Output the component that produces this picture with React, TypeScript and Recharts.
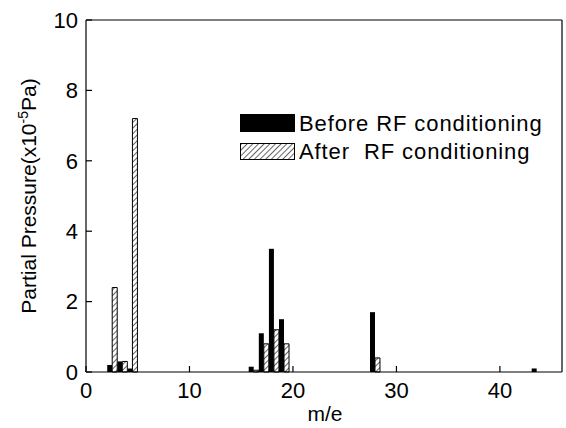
import { BarChart, Bar, XAxis, YAxis } from "recharts";

// m/e peaks and partial pressures (x10^-5 Pa)
const masses = [2, 3, 4, 16, 17, 18, 19, 28, 44];
const beforeRF = [0.2, 0.3, 0.1, 0.15, 1.1, 3.5, 1.5, 1.7, 0.1];
const afterRF = [2.4, 0.3, 7.2, 0.05, 0.8, 1.2, 0.8, 0.4, 0];

// one category slot per m/e value from 0 to 46
const slots = Array.from({ length: 47 }, (_, i) => i);

const xMajor = [0, 10, 20, 30, 40];
const xMinor = [5, 15, 25, 35, 45];
const yMajor = [0, 2, 4, 6, 8, 10];
const yMinor = [1, 3, 5, 7, 9];

const rows = slots.map((m) => {
  const i = masses.indexOf(m);
  return {
    m,
    before: i >= 0 ? beforeRF[i] : null,
    after: i >= 0 && afterRF[i] > 0 ? afterRF[i] : null,
  };
});

const W = 566;
const H = 428;
const FONT = "'Liberation Sans', Arial, sans-serif";
const X_DOMAIN: [number, number] = [-0.6, 46.5];
const Y_DOMAIN: [number, number] = [0, 10];
const AXIS = { stroke: "#000", strokeWidth: 1.2 };
const TICK_LINE = { stroke: "#000", strokeWidth: 1.2 };
const LABEL = { fontSize: 22, fill: "#000", fontFamily: FONT };

export default function App() {
  return (
    <div style={{ position: "fixed", left: 0, top: 0, width: W, height: H, background: "#fff" }}>
      <BarChart
        width={W}
        height={H}
        data={rows}
        margin={{ top: 18, right: 2, left: 84, bottom: 54 }}
        barCategoryGap={0}
        barGap={0}
      >
        <XAxis xAxisId="cat" dataKey="m" type="category" height={0} padding={{ left: 1, right: 0 }} hide />

        {/* bottom axis: labelled major ticks, short minor ticks, all pointing inward */}
        <XAxis
          xAxisId="num"
          type="number"
          domain={X_DOMAIN}
          allowDataOverflow
          ticks={xMajor}
          interval={0}
          height={1}
          tickSize={-6}
          tickMargin={16}
          axisLine={AXIS}
          tickLine={TICK_LINE}
          tick={LABEL}
        />
        <XAxis
          xAxisId="numMinor"
          type="number"
          domain={X_DOMAIN}
          allowDataOverflow
          ticks={xMinor}
          interval={0}
          height={1}
          tickSize={-4}
          axisLine={false}
          tickLine={TICK_LINE}
          tick={false}
        />

        {/* top frame */}
        <XAxis
          xAxisId="top"
          orientation="top"
          type="number"
          domain={X_DOMAIN}
          allowDataOverflow
          ticks={xMajor}
          interval={0}
          height={1}
          tickSize={-6}
          axisLine={AXIS}
          tickLine={TICK_LINE}
          tick={false}
        />
        <XAxis
          xAxisId="topMinor"
          orientation="top"
          type="number"
          domain={X_DOMAIN}
          allowDataOverflow
          ticks={xMinor}
          interval={0}
          height={1}
          tickSize={-4}
          axisLine={false}
          tickLine={TICK_LINE}
          tick={false}
        />

        <YAxis
          yAxisId="left"
          type="number"
          domain={Y_DOMAIN}
          ticks={yMajor}
          interval={0}
          width={1}
          tickSize={-6}
          tickMargin={14}
          axisLine={AXIS}
          tickLine={TICK_LINE}
          tick={LABEL}
        />
        <YAxis
          yAxisId="leftMinor"
          type="number"
          domain={Y_DOMAIN}
          allowDataOverflow
          ticks={yMinor}
          interval={0}
          width={1}
          tickSize={-4}
          axisLine={false}
          tickLine={TICK_LINE}
          tick={false}
        />

        {/* right frame */}
        <YAxis
          yAxisId="right"
          orientation="right"
          type="number"
          domain={Y_DOMAIN}
          allowDataOverflow
          ticks={yMajor}
          interval={0}
          width={1}
          tickSize={-6}
          axisLine={AXIS}
          tickLine={TICK_LINE}
          tick={false}
        />
        <YAxis
          yAxisId="rightMinor"
          orientation="right"
          type="number"
          domain={Y_DOMAIN}
          allowDataOverflow
          ticks={yMinor}
          interval={0}
          width={1}
          tickSize={-4}
          axisLine={false}
          tickLine={TICK_LINE}
          tick={false}
        />

        <Bar xAxisId="cat" yAxisId="left" dataKey="before" fill="#000" isAnimationActive={false} />
        <Bar
          xAxisId="cat"
          yAxisId="left"
          dataKey="after"
          fill="url(#hatch)"
          stroke="#000"
          strokeWidth={1}
          isAnimationActive={false}
        />
      </BarChart>

      <svg
        width={W}
        height={H}
        style={{ position: "absolute", left: 0, top: 0, pointerEvents: "none" }}
        fontFamily={FONT}
      >
        <defs>
          <pattern id="hatch" patternUnits="userSpaceOnUse" width={4} height={4} patternTransform="rotate(45)">
            <rect width={4} height={4} fill="#fff" />
            <line x1={0} y1={0} x2={0} y2={4} stroke="#000" strokeWidth={1.2} />
          </pattern>
        </defs>
        <rect x={240} y={114} width={55} height={18} fill="#000" />
        <text x={299} y={131} fontSize={22} letterSpacing={0.9} fill="#000">
          Before RF conditioning
        </text>
        <rect x={240.5} y={143.5} width={54} height={16} fill="url(#hatch)" stroke="#000" />
        <text x={299} y={159} fontSize={22} letterSpacing={0.9} fill="#000" style={{ whiteSpace: "pre" }}>
          {"After  RF conditioning"}
        </text>

        <text x={325} y={421} textAnchor="middle" fontSize={21} fill="#000">
          m/e
        </text>
        <text transform="translate(36,196) rotate(-90)" textAnchor="middle" fontSize={21} fill="#000">
          Partial Pressure(x10
          <tspan fontSize={14} dy={-8}>-5</tspan>
          <tspan dy={8}>Pa)</tspan>
        </text>
      </svg>
    </div>
  );
}
